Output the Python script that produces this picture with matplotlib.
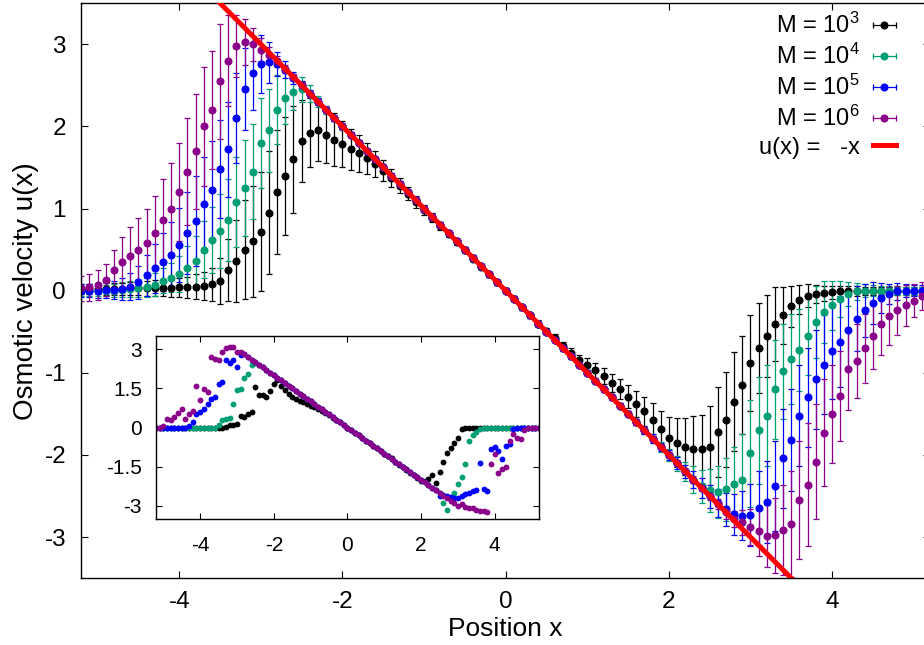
import numpy as np
import matplotlib
matplotlib.use("Agg")
import matplotlib.pyplot as plt
from matplotlib.lines import Line2D
from matplotlib.legend_handler import HandlerLine2D, HandlerTuple

plt.rcParams['font.family'] = ['Liberation Sans', 'DejaVu Sans']
plt.rcParams['mathtext.fontset'] = 'custom'
plt.rcParams['mathtext.rm'] = 'Liberation Sans'
plt.rcParams['axes.unicode_minus'] = False

# sample positions, -5.2 ... 5.2 in steps of 0.1 (rows below start at -5.2, -4.2, ... 4.8)
x = np.round(np.arange(105) * 0.1 - 5.2, 2)

# averaged osmotic velocity and its spread, M = 10^3
u_m3 = [0.02, 0.02, 0.02, 0.02, 0.02, 0.02, 0.03, 0.03, 0.03, 0.03,
        0.03, 0.03, 0.04, 0.04, 0.05, 0.06, 0.08, 0.12, 0.25, 0.36,
        0.50, 0.60, 0.72, 0.95, 1.20, 1.40, 1.60, 1.82, 1.92, 1.96,
        1.90, 1.84, 1.78, 1.72, 1.67, 1.61, 1.54, 1.46, 1.37, 1.28,
        1.18, 1.08, 0.98, 0.89, 0.79, 0.69, 0.59, 0.49, 0.39, 0.29,
        0.20, 0.10, 0.00, -0.10, -0.20, -0.30, -0.40, -0.49, -0.58, -0.67,
        -0.76, -0.85, -0.90, -0.97, -1.04, -1.12, -1.20, -1.29, -1.38, -1.47,
        -1.57, -1.68, -1.79, -1.85, -1.90, -1.93, -1.93, -1.90, -1.72, -1.57,
        -1.35, -1.15, -0.88, -0.70, -0.55, -0.41, -0.30, -0.19, -0.11, -0.06,
        -0.04, -0.03, -0.02, -0.01, 0.00, 0.00, 0.00, 0.00, 0.00, 0.00,
        0.00, 0.00, 0.00, 0.00, 0.00]
err_m3 = [0.06, 0.06, 0.06, 0.07, 0.07, 0.07, 0.08, 0.08, 0.09, 0.10,
          0.10, 0.11, 0.12, 0.13, 0.15, 0.17, 0.20, 0.28, 0.38, 0.50,
          0.60, 0.68, 0.72, 0.75, 0.75, 0.72, 0.65, 0.50, 0.42, 0.38,
          0.35, 0.32, 0.28, 0.25, 0.22, 0.19, 0.16, 0.13, 0.11, 0.09,
          0.08, 0.07, 0.06, 0.05, 0.05, 0.04, 0.04, 0.03, 0.03, 0.03,
          0.03, 0.03, 0.03, 0.03, 0.03, 0.03, 0.04, 0.04, 0.05, 0.05,
          0.06, 0.07, 0.08, 0.09, 0.10, 0.11, 0.12, 0.14, 0.16, 0.18,
          0.20, 0.22, 0.25, 0.30, 0.35, 0.40, 0.42, 0.50, 0.55, 0.58,
          0.60, 0.60, 0.58, 0.55, 0.50, 0.45, 0.35, 0.25, 0.18, 0.14,
          0.11, 0.09, 0.08, 0.07, 0.06, 0.06, 0.05, 0.05, 0.05, 0.05,
          0.05, 0.05, 0.05, 0.05, 0.05]

# M = 10^4
u_m4 = [0.00, 0.00, 0.00, 0.00, 0.00, 0.01, 0.02, 0.03, 0.04, 0.07,
        0.12, 0.16, 0.20, 0.28, 0.36, 0.50, 0.62, 0.73, 0.86, 1.08,
        1.25, 1.45, 1.80, 1.95, 2.20, 2.35, 2.42, 2.45, 2.40, 2.30,
        2.20, 2.10, 2.00, 1.90, 1.80, 1.70, 1.60, 1.50, 1.40, 1.30,
        1.20, 1.10, 1.00, 0.90, 0.80, 0.70, 0.60, 0.50, 0.40, 0.30,
        0.20, 0.10, 0.00, -0.10, -0.20, -0.30, -0.40, -0.50, -0.60, -0.70,
        -0.80, -0.90, -1.00, -1.10, -1.20, -1.30, -1.40, -1.50, -1.60, -1.70,
        -1.80, -1.90, -2.00, -2.10, -2.20, -2.30, -2.38, -2.43, -2.45, -2.42,
        -2.35, -2.30, -1.98, -1.70, -1.52, -1.20, -0.98, -0.83, -0.72, -0.55,
        -0.38, -0.26, -0.18, -0.10, -0.04, -0.01, 0.00, 0.00, 0.00, 0.00,
        0.00, 0.00, 0.00, 0.00, 0.00]
err_m4 = [0.06, 0.06, 0.07, 0.07, 0.08, 0.09, 0.10, 0.11, 0.12, 0.14,
          0.15, 0.18, 0.22, 0.26, 0.30, 0.35, 0.40, 0.45, 0.50, 0.55,
          0.58, 0.58, 0.55, 0.50, 0.42, 0.32, 0.22, 0.15, 0.10, 0.07,
          0.05, 0.04, 0.04, 0.03, 0.03, 0.03, 0.03, 0.03, 0.03, 0.03,
          0.03, 0.03, 0.03, 0.03, 0.03, 0.03, 0.03, 0.03, 0.03, 0.03,
          0.03, 0.03, 0.03, 0.03, 0.03, 0.03, 0.03, 0.03, 0.03, 0.03,
          0.03, 0.03, 0.03, 0.03, 0.03, 0.03, 0.03, 0.03, 0.04, 0.04,
          0.05, 0.06, 0.07, 0.09, 0.12, 0.16, 0.20, 0.26, 0.32, 0.38,
          0.45, 0.55, 0.65, 0.65, 0.62, 0.60, 0.58, 0.55, 0.50, 0.48,
          0.44, 0.38, 0.30, 0.22, 0.15, 0.10, 0.08, 0.07, 0.06, 0.06,
          0.05, 0.05, 0.05, 0.05, 0.05]

# M = 10^5
u_m5 = [0.00, 0.00, 0.00, 0.01, 0.01, 0.02, 0.05, 0.10, 0.19, 0.27,
        0.35, 0.44, 0.56, 0.70, 0.85, 1.05, 1.22, 1.48, 1.72, 2.10,
        2.45, 2.65, 2.76, 2.78, 2.76, 2.69, 2.59, 2.50, 2.40, 2.30,
        2.20, 2.10, 2.00, 1.90, 1.80, 1.70, 1.60, 1.50, 1.40, 1.30,
        1.20, 1.10, 1.00, 0.90, 0.80, 0.70, 0.60, 0.50, 0.40, 0.30,
        0.20, 0.10, 0.00, -0.10, -0.20, -0.30, -0.40, -0.50, -0.60, -0.70,
        -0.80, -0.90, -1.00, -1.10, -1.20, -1.30, -1.40, -1.50, -1.60, -1.70,
        -1.80, -1.90, -2.00, -2.10, -2.20, -2.30, -2.40, -2.50, -2.59, -2.66,
        -2.72, -2.74, -2.73, -2.65, -2.57, -2.38, -2.04, -1.82, -1.52, -1.30,
        -1.08, -0.90, -0.74, -0.62, -0.48, -0.34, -0.24, -0.15, -0.09, -0.04,
        -0.01, 0.00, 0.00, 0.00, 0.00]
err_m5 = [0.08, 0.08, 0.09, 0.10, 0.11, 0.13, 0.16, 0.20, 0.25, 0.30,
          0.35, 0.40, 0.45, 0.50, 0.55, 0.58, 0.60, 0.60, 0.58, 0.55,
          0.50, 0.45, 0.35, 0.25, 0.15, 0.10, 0.07, 0.05, 0.04, 0.04,
          0.03, 0.03, 0.03, 0.03, 0.03, 0.03, 0.03, 0.03, 0.03, 0.03,
          0.03, 0.03, 0.03, 0.03, 0.03, 0.03, 0.03, 0.03, 0.03, 0.03,
          0.03, 0.03, 0.03, 0.03, 0.03, 0.03, 0.03, 0.03, 0.03, 0.03,
          0.03, 0.03, 0.03, 0.03, 0.03, 0.03, 0.03, 0.03, 0.04, 0.04,
          0.05, 0.05, 0.06, 0.07, 0.08, 0.10, 0.12, 0.14, 0.17, 0.20,
          0.25, 0.30, 0.38, 0.45, 0.50, 0.55, 0.60, 0.62, 0.62, 0.60,
          0.60, 0.60, 0.58, 0.55, 0.48, 0.40, 0.32, 0.25, 0.18, 0.12,
          0.10, 0.08, 0.07, 0.07, 0.07]

# M = 10^6
u_m6 = [0.03, 0.04, 0.07, 0.13, 0.25, 0.35, 0.42, 0.50, 0.58, 0.70,
        0.86, 1.00, 1.20, 1.45, 1.70, 2.00, 2.20, 2.55, 2.80, 2.98,
        3.03, 3.00, 2.93, 2.87, 2.79, 2.70, 2.60, 2.50, 2.40, 2.30,
        2.20, 2.10, 2.00, 1.90, 1.80, 1.70, 1.60, 1.50, 1.40, 1.30,
        1.20, 1.10, 1.00, 0.90, 0.80, 0.70, 0.60, 0.50, 0.40, 0.30,
        0.20, 0.10, 0.00, -0.10, -0.20, -0.30, -0.40, -0.50, -0.60, -0.70,
        -0.80, -0.90, -1.00, -1.10, -1.20, -1.30, -1.40, -1.50, -1.60, -1.70,
        -1.80, -1.90, -2.00, -2.10, -2.20, -2.30, -2.40, -2.50, -2.60, -2.70,
        -2.78, -2.82, -2.88, -2.93, -2.99, -2.98, -2.91, -2.84, -2.55, -2.36,
        -2.08, -1.73, -1.50, -1.28, -0.95, -0.86, -0.70, -0.55, -0.40, -0.31,
        -0.24, -0.18, -0.12, -0.06, -0.03]
err_m6 = [0.15, 0.16, 0.18, 0.20, 0.25, 0.30, 0.35, 0.38, 0.42, 0.45,
          0.50, 0.55, 0.60, 0.65, 0.70, 0.72, 0.72, 0.70, 0.55, 0.38,
          0.28, 0.20, 0.14, 0.10, 0.07, 0.05, 0.04, 0.04, 0.03, 0.03,
          0.03, 0.03, 0.03, 0.03, 0.03, 0.03, 0.03, 0.03, 0.03, 0.03,
          0.03, 0.03, 0.03, 0.03, 0.03, 0.03, 0.03, 0.03, 0.03, 0.03,
          0.03, 0.03, 0.03, 0.03, 0.03, 0.03, 0.03, 0.03, 0.03, 0.03,
          0.03, 0.03, 0.03, 0.03, 0.03, 0.03, 0.03, 0.03, 0.03, 0.03,
          0.03, 0.03, 0.03, 0.03, 0.03, 0.04, 0.04, 0.05, 0.06, 0.08,
          0.10, 0.15, 0.22, 0.30, 0.38, 0.46, 0.55, 0.65, 0.72, 0.75,
          0.70, 0.65, 0.60, 0.55, 0.50, 0.45, 0.42, 0.40, 0.38, 0.35,
          0.30, 0.25, 0.20, 0.17, 0.15]

# single-run velocities shown in the inset
s_m3 = [0.00, 0.00, 0.00, 0.00, 0.00, 0.00, 0.00, 0.00, 0.00, 0.00,
        0.00, 0.00, 0.00, 0.00, 0.00, 0.00, 0.00, 0.00, 0.00, 0.03,
        0.08, 0.10, 0.15, 0.46, 0.40, 0.53, 0.60, 1.55, 1.23, 1.25,
        1.17, 1.40, 1.68, 1.80, 1.60, 1.42, 1.30, 1.17, 1.10, 1.02,
        0.97, 0.90, 0.84, 0.77, 0.72, 0.64, 0.56, 0.47, 0.38, 0.29,
        0.20, 0.10, 0.00, -0.10, -0.20, -0.30, -0.40, -0.50, -0.60, -0.70,
        -0.80, -0.90, -1.00, -1.08, -1.18, -1.30, -1.42, -1.52, -1.62, -1.72,
        -1.82, -1.93, -2.03, -2.05, -1.95, -1.82, -2.14, -1.70, -1.30, -0.99,
        -0.80, -0.60, -0.40, -0.05, 0.00, 0.00, 0.00, 0.00, 0.00, 0.00,
        0.00, 0.00, 0.00, 0.00, 0.00, 0.00, 0.00, 0.00, 0.00, 0.00,
        0.00, 0.00, 0.00, 0.00, 0.00]
s_m4 = [0.00, 0.00, 0.00, 0.00, 0.00, 0.00, 0.00, 0.00, 0.00, 0.00,
        0.00, 0.00, 0.00, 0.00, 0.00, 0.00, 0.00, 0.08, 0.27, 0.32,
        0.38, 0.91, 1.42, 1.49, 1.90, 2.06, 2.38, 2.45, 2.40, 2.30,
        2.20, 2.10, 2.00, 1.90, 1.80, 1.70, 1.60, 1.50, 1.40, 1.30,
        1.20, 1.10, 1.00, 0.90, 0.80, 0.70, 0.60, 0.50, 0.40, 0.30,
        0.20, 0.10, 0.00, -0.10, -0.20, -0.30, -0.40, -0.50, -0.60, -0.70,
        -0.80, -0.90, -1.00, -1.10, -1.20, -1.30, -1.40, -1.50, -1.60, -1.70,
        -1.80, -1.90, -2.00, -2.10, -2.20, -2.30, -2.40, -2.50, -2.88, -3.14,
        -2.75, -2.50, -2.17, -1.90, -1.40, -0.50, -0.30, -0.18, -0.05, 0.00,
        0.00, 0.00, 0.00, 0.00, 0.00, 0.00, 0.00, 0.00, 0.00, 0.00,
        0.00, 0.00, 0.00, 0.00, 0.00]
s_m5 = [0.00, 0.00, 0.00, 0.00, 0.00, 0.00, 0.00, 0.00, 0.00, 0.05,
        0.21, 0.52, 0.60, 0.71, 0.91, 1.10, 1.15, 1.68, 1.74, 2.58,
        2.45, 2.60, 2.30, 2.76, 2.80, 2.70, 2.60, 2.50, 2.40, 2.30,
        2.20, 2.10, 2.00, 1.90, 1.80, 1.70, 1.60, 1.50, 1.40, 1.30,
        1.20, 1.10, 1.00, 0.90, 0.80, 0.70, 0.60, 0.50, 0.40, 0.30,
        0.20, 0.10, 0.00, -0.10, -0.20, -0.30, -0.40, -0.50, -0.60, -0.70,
        -0.80, -0.90, -1.00, -1.10, -1.20, -1.30, -1.40, -1.50, -1.60, -1.70,
        -1.80, -1.90, -2.00, -2.10, -2.20, -2.30, -2.40, -2.60, -2.58, -2.62,
        -2.65, -2.68, -2.68, -2.60, -2.55, -2.50, -2.42, -2.40, -1.34, -2.36,
        -2.42, -0.82, -0.76, -0.90, -1.20, -0.70, -0.63, -0.05, 0.00, 0.00,
        0.00, 0.00, 0.00, 0.00, 0.00]
s_m6 = [0.00, 0.00, 0.05, 0.33, 0.30, 0.40, 0.55, 0.72, 0.33, 0.50,
        0.65, 1.58, 1.04, 1.49, 1.36, 2.70, 2.62, 2.58, 2.90, 3.05,
        3.09, 3.09, 2.90, 2.90, 2.80, 2.70, 2.60, 2.50, 2.40, 2.30,
        2.20, 2.10, 2.00, 1.90, 1.80, 1.70, 1.60, 1.50, 1.40, 1.30,
        1.20, 1.10, 1.00, 0.90, 0.80, 0.70, 0.60, 0.50, 0.40, 0.30,
        0.20, 0.10, 0.00, -0.10, -0.20, -0.30, -0.40, -0.50, -0.60, -0.70,
        -0.80, -0.90, -1.00, -1.10, -1.20, -1.30, -1.40, -1.50, -1.60, -1.70,
        -1.80, -1.90, -2.00, -2.10, -2.20, -2.30, -2.40, -2.50, -2.60, -2.70,
        -2.80, -2.90, -3.00, -2.92, -3.05, -3.08, -3.06, -3.15, -3.19, -3.18,
        -3.22, -1.40, -1.00, -1.75, -1.60, -1.50, -0.50, -0.25, -0.40, -0.43,
        -0.10, 0.00, 0.00, 0.00, 0.00]

labels = ['M = $\\mathregular{10^{3}}$', 'M = $\\mathregular{10^{4}}$',
          'M = $\\mathregular{10^{5}}$', 'M = $\\mathregular{10^{6}}$']
colors = ['black', '#009e73', '#0000ff', '#8b008b']
means = [u_m3, u_m4, u_m5, u_m6]
errors = [err_m3, err_m4, err_m5, err_m6]
singles = [s_m3, s_m4, s_m5, s_m6]

fig = plt.figure(figsize=(9.24, 6.45), dpi=100)
ax = fig.add_axes([0.088, 0.1036, 0.9185, 0.8915])

for u, e, c in zip(means, errors, colors):
    ax.errorbar(x, u, yerr=e, fmt='o', color=c, ms=4.8, elinewidth=0.9,
                capsize=2.0, capthick=0.9)

# exact solution
xs = np.array([-5.2, 5.2])
ax.plot(xs, -xs, color='red', lw=3.6, zorder=5)

ax.set_xlim(-5.2, 5.2)
ax.set_ylim(-3.5, 3.5)
ax.set_xticks([-4, -2, 0, 2, 4])
ax.set_yticks([-3, -2, -1, 0, 1, 2, 3])
ax.tick_params(direction='in', top=True, right=True, length=5, width=0.8,
               labelsize=17.5)
ax.tick_params(axis='y', pad=11)
ax.tick_params(axis='x', pad=9)
for sp in ax.spines.values():
    sp.set_linewidth(1.0)
ax.set_xlabel('Position x', fontsize=19, labelpad=3)
ax.set_ylabel('Osmotic velocity u(x)', fontsize=20, labelpad=4)

# legend: text on the left, key on the right
handles = []
hmap = {}
for c in colors:
    bar = Line2D([], [], color=c, lw=0.9, marker='|', ms=5, mew=0.9)
    dot = Line2D([], [], color=c, marker='o', ms=4.8, ls='none')
    hmap[bar] = HandlerLine2D(numpoints=2, marker_pad=0)
    handles.append((bar, dot))
handles.append(Line2D([], [], color='red', lw=3.6))
hmap[tuple] = HandlerTuple(ndivide=1, pad=0)
leg = ax.legend(handles, labels + ['u(x) =   -x'], handler_map=hmap,
                loc='upper right', bbox_to_anchor=(901 / 924, 0.987),
                bbox_transform=fig.transFigure, frameon=False, markerfirst=False,
                fontsize=17, handlelength=1.0, handletextpad=0.55,
                labelspacing=0.24, borderpad=0.2, borderaxespad=0)

# inset with single runs
ins = fig.add_axes([0.1688, 0.1953, 0.4145, 0.2837])
for s, c in zip(singles, colors):
    ins.plot(x, s, 'o', color=c, ms=4.2, mew=0)
ins.set_xlim(-5.2, 5.2)
ins.set_ylim(-3.5, 3.5)
ins.set_xticks([-4, -2, 0, 2, 4])
ins.set_yticks([-3, -1.5, 0, 1.5, 3])
ins.set_yticklabels(['-3', '-1.5', '0', '1.5', '3'])
ins.tick_params(direction='in', top=True, right=True, length=4, width=0.8,
                labelsize=15)
ins.tick_params(axis='y', pad=10)
ins.tick_params(axis='x', pad=12)
for sp in ins.spines.values():
    sp.set_linewidth(1.0)

fig.savefig('out.png', dpi=100)
